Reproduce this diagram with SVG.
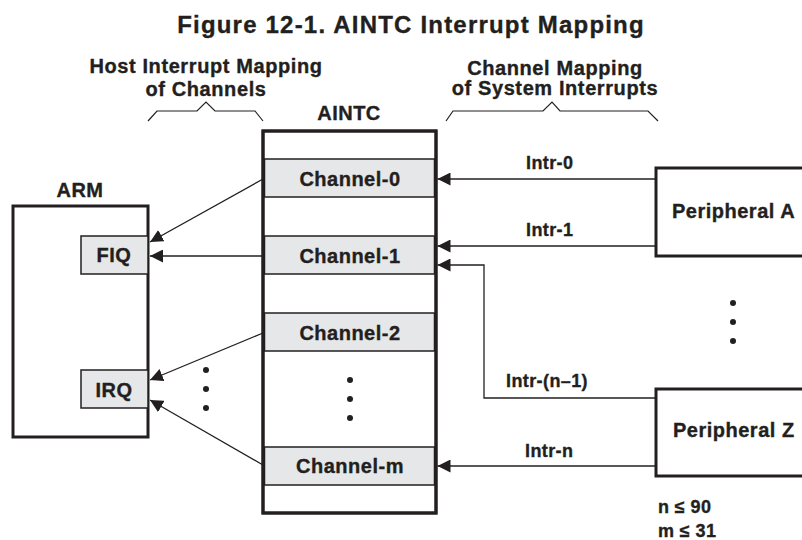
<svg xmlns="http://www.w3.org/2000/svg" width="802" height="540" viewBox="0 0 802 540">
<style>
text{font-family:"Liberation Sans",Arial,sans-serif;font-weight:bold;fill:#231f20;stroke:#231f20;stroke-width:0.35}
.title{font-size:24px;letter-spacing:1.2px}
.hdr{font-size:20px;letter-spacing:0.6px}
.lbl{font-size:20px;letter-spacing:0.5px}
.sm{font-size:18px;letter-spacing:0.4px}
.box{fill:#fff;stroke:#231f20;stroke-width:3}
.ch{fill:#e6e7e8;stroke:#231f20;stroke-width:1.5}
.con{fill:none;stroke:#231f20;stroke-width:1.3}
.dot{fill:#231f20}
.brace{fill:none;stroke:#231f20;stroke-width:1.2}
</style>
<defs>
<marker id="ah" markerUnits="userSpaceOnUse" markerWidth="14" markerHeight="13" refX="13" refY="6.5" orient="auto">
<path d="M0,0 L13,6.5 L0,13 Z" fill="#231f20"/>
</marker>
</defs>
<rect width="802" height="540" fill="#fff"/>
<text class="title" x="411" y="33" text-anchor="middle">Figure 12-1. AINTC Interrupt Mapping</text>

<g id="hdr-left">
<text class="hdr" x="206" y="73" text-anchor="middle">Host Interrupt Mapping</text>
<text class="hdr" x="206" y="96" text-anchor="middle">of Channels</text>
<path class="brace" d="M148,121 L157,111 L197,111 L206,102 L215,111 L255,111 L263,121"/>
</g>
<g id="hdr-right">
<text class="hdr" x="555" y="75" text-anchor="middle">Channel Mapping</text>
<text class="hdr" x="555" y="95" text-anchor="middle">of System Interrupts</text>
<path class="brace" d="M446,121 L453,111 L543,111 L552,102 L560,111 L648,111 L658,121"/>
</g>

<g id="arm">
<text class="lbl" x="80" y="197" text-anchor="middle">ARM</text>
<rect class="box" x="13" y="206" width="135" height="231"/>
</g>
<g id="fiq">
<rect class="ch" x="81" y="236" width="67" height="38"/>
<text class="lbl" x="114" y="262" text-anchor="middle">FIQ</text>
</g>
<g id="irq">
<rect class="ch" x="81" y="370" width="67" height="38"/>
<text class="lbl" x="114" y="397" text-anchor="middle">IRQ</text>
</g>

<g id="aintc">
<text class="lbl" x="349" y="120" text-anchor="middle">AINTC</text>
<rect class="box" x="263" y="131" width="173" height="382"/>
<g id="ch0"><rect class="ch" x="264.5" y="159" width="170" height="38"/><text class="lbl" x="350" y="186" text-anchor="middle">Channel-0</text></g>
<g id="ch1"><rect class="ch" x="264.5" y="236" width="170" height="38"/><text class="lbl" x="350" y="263" text-anchor="middle">Channel-1</text></g>
<g id="ch2"><rect class="ch" x="264.5" y="313" width="170" height="38"/><text class="lbl" x="350" y="340" text-anchor="middle">Channel-2</text></g>
<g id="chm"><rect class="ch" x="264.5" y="447" width="170" height="38"/><text class="lbl" x="350" y="473" text-anchor="middle">Channel-m</text></g>
<circle class="dot" cx="350" cy="380" r="3"/>
<circle class="dot" cx="350" cy="399" r="3"/>
<circle class="dot" cx="350" cy="418" r="3"/>
<rect x="263" y="131" width="173" height="382" fill="none" stroke="#231f20" stroke-width="3"/>
</g>

<g id="periph-a">
<rect class="box" x="656" y="168" width="160" height="88"/>
<text class="lbl" x="672" y="218">Peripheral A</text>
</g>
<g id="periph-z">
<rect class="box" x="656" y="389" width="160" height="87"/>
<text class="lbl" x="673" y="437">Peripheral Z</text>
</g>
<g id="dots-right">
<circle class="dot" cx="733" cy="303" r="3"/>
<circle class="dot" cx="733" cy="322" r="3"/>
<circle class="dot" cx="733" cy="341" r="3"/>
</g>
<g id="dots-left">
<circle class="dot" cx="206" cy="370" r="3"/>
<circle class="dot" cx="206" cy="389" r="3"/>
<circle class="dot" cx="206" cy="408" r="3"/>
</g>

<g id="connectors">
<line class="con" x1="263" y1="179" x2="150" y2="242" marker-end="url(#ah)"/>
<line class="con" x1="263" y1="256" x2="150" y2="256" marker-end="url(#ah)"/>
<line class="con" x1="263" y1="333" x2="150" y2="380" marker-end="url(#ah)"/>
<line class="con" x1="263" y1="465" x2="150" y2="400" marker-end="url(#ah)"/>
<line class="con" x1="656" y1="179" x2="437.5" y2="179" marker-end="url(#ah)"/>
<line class="con" x1="656" y1="246" x2="437.5" y2="246" marker-end="url(#ah)"/>
<polyline class="con" points="656,398 484,398 484,265 437.5,265" marker-end="url(#ah)"/>
<line class="con" x1="656" y1="466" x2="437.5" y2="466" marker-end="url(#ah)"/>
<text class="sm" x="526" y="169">Intr-0</text>
<text class="sm" x="526" y="236">Intr-1</text>
<text class="sm" x="506" y="387">Intr-(n–1)</text>
<text class="sm" x="525" y="457">Intr-n</text>
</g>
<text class="sm" x="658" y="513">n ≤ 90</text>
<text class="sm" x="658" y="537">m ≤ 31</text>
</svg>
